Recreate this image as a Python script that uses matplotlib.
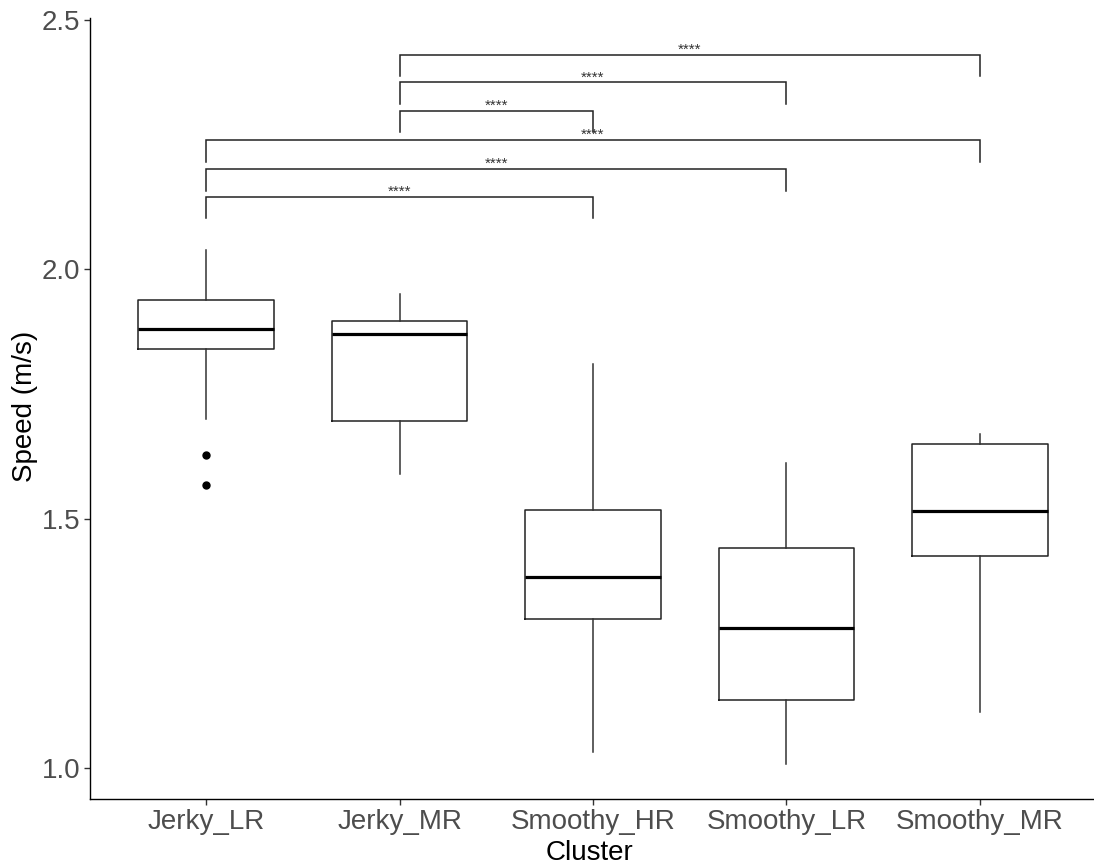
import matplotlib
matplotlib.use("Agg")
import matplotlib.pyplot as plt

plt.rcParams['font.family'] = ['Liberation Sans', 'DejaVu Sans']

# categories and box statistics
clusters = ['Jerky_LR', 'Jerky_MR', 'Smoothy_HR', 'Smoothy_LR', 'Smoothy_MR']
whisk_hi = [2.039, 1.951, 1.810, 1.612, 1.670]
q3 = [1.939, 1.896, 1.518, 1.441, 1.650]
median = [1.880, 1.870, 1.384, 1.281, 1.515]
q1 = [1.840, 1.696, 1.299, 1.136, 1.425]
whisk_lo = [1.700, 1.590, 1.032, 1.008, 1.113]
outliers = [[1.628, 1.568], [], [], [], []]

# pairwise comparisons (group index pairs), bracket heights and labels
pairs = [(1, 4), (1, 3), (1, 2), (0, 4), (0, 3), (0, 2)]
bracket_y = [2.430, 2.375, 2.318, 2.259, 2.201, 2.145]
sig_labels = ['****'] * 6
tip = 0.043

stats = []
for i, name in enumerate(clusters):
    stats.append(dict(label=name, med=median[i], q1=q1[i], q3=q3[i],
                      whislo=whisk_lo[i], whishi=whisk_hi[i], fliers=outliers[i]))

fig = plt.figure(figsize=(10.94, 8.68), dpi=100)
ax = fig.add_axes([90 / 1094, 69 / 868, 1006 / 1094, 781 / 868])

positions = list(range(1, len(clusters) + 1))
ax.bxp(stats, positions=positions, widths=0.7, showcaps=False,
       patch_artist=False,
       boxprops=dict(color='#222222', linewidth=1.1),
       whiskerprops=dict(color='#333333', linewidth=1.1),
       medianprops=dict(color='black', linewidth=2.3),
       flierprops=dict(marker='o', markerfacecolor='black', markeredgecolor='black',
                       markersize=5, linestyle='none'))

for (a, b), yb, lab in zip(pairs, bracket_y, sig_labels):
    xa, xb = positions[a], positions[b]
    ax.plot([xa, xa, xb, xb], [yb - tip, yb, yb, yb - tip], color='#222222',
            linewidth=1.1, solid_joinstyle='miter')
    ax.text((xa + xb) / 2, yb + 0.002, lab, ha='center', va='baseline',
            fontsize=11, color='#333333')

ax.set_xlim(0.4, 5.6)
ax.set_ylim(0.938, 2.504)
ax.set_yticks([1.0, 1.5, 2.0, 2.5])
ax.set_yticklabels(['1.0', '1.5', '2.0', '2.5'])
ax.set_xticks(positions)
ax.set_xticklabels(clusters)

for side in ['top', 'right']:
    ax.spines[side].set_visible(False)
for side in ['left', 'bottom']:
    ax.spines[side].set_color('black')
    ax.spines[side].set_linewidth(1.0)

ax.tick_params(axis='both', direction='out', length=4, width=1, color='#333333',
               labelcolor='#4D4D4D', labelsize=20, pad=3)

ax.set_ylabel('Speed (m/s)', fontsize=20, color='black', va='center', ha='center')
ax.yaxis.set_label_coords(-0.0646, 0.503)
ax.set_xlabel('Cluster', fontsize=20, color='black', va='top')
ax.xaxis.set_label_coords(0.497, -0.052)

fig.savefig('out.png', dpi=100)
